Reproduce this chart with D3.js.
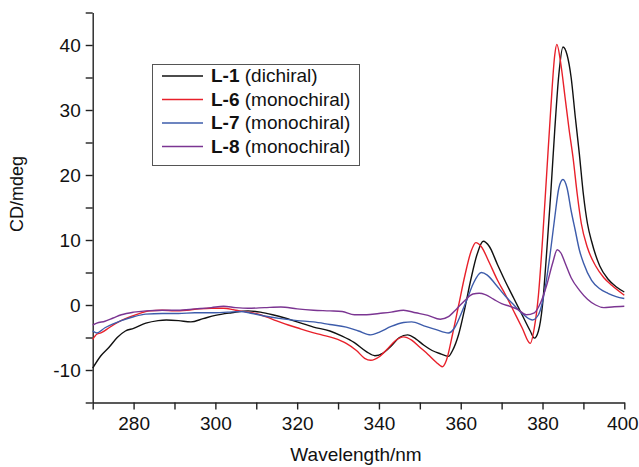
<!DOCTYPE html>
<html>
<head>
<meta charset="utf-8">
<script src="https://cdnjs.cloudflare.com/ajax/libs/d3/7.8.5/d3.min.js"></script>
<style>
body { margin: 0; background: #fff; }
svg text { font-family: "Liberation Sans", Arial, sans-serif; fill: #111; }
.axis path, .axis line { stroke: #222; stroke-width: 1.4px; }
</style>
</head>
<body>
<div id="chart"></div>
<script>
/*global d3 */

// [wavelength nm, CD mdeg]
var seriesL1 = [[270,-9.7],[272,-7.8],[274,-6.5],[276,-5.0],[278,-4.0],[280,-3.6],[283,-2.8],[286,-2.4],[288,-2.3],[291,-2.4],[294,-2.6],[297,-2.1],[300,-1.6],[304,-1.2],[308,-0.9],[311,-1.1],[314,-1.5],[317,-2.0],[320,-2.6],[324,-3.4],[328,-4.0],[331,-4.8],[334,-5.8],[337,-7.2],[339,-7.8],[341,-7.4],[343,-6.3],[345,-5.0],[347,-4.6],[349,-5.2],[351,-6.2],[353,-7.0],[355,-7.5],[357,-7.9],[358,-7.0],[359.5,-4.5],[361,-0.5],[362.5,4.0],[364,7.8],[365.5,9.8],[367,9.0],[369,6.2],[371,3.5],[373,1.0],[375,-1.5],[377,-4.0],[378,-5.1],[379,-4.0],[380,0],[381,8],[382,17],[383,27],[384,35.5],[385,39.7],[386,38.5],[387,35],[388,29],[389,23.3],[390,17],[391,12.5],[392,9.8],[394,6],[396,4],[398,2.8],[400,2.0]];

var seriesL6 = [[270,-5.3],[271,-4.5],[272,-4.3],[274,-3.5],[276,-2.7],[278,-2.1],[281,-1.4],[284,-0.9],[287,-0.8],[290,-0.9],[293,-0.8],[296,-0.6],[299,-0.5],[302,-0.5],[305,-0.8],[308,-1.1],[311,-1.5],[314,-2.2],[317,-2.9],[320,-3.5],[323,-4.1],[326,-4.6],[329,-5.1],[332,-5.9],[334.5,-7.0],[336.5,-8.2],[338,-8.5],[340,-8.0],[342,-6.8],[344,-5.5],[346,-4.9],[348,-5.4],[350,-6.5],[352,-7.6],[354,-8.8],[355.5,-9.5],[356.5,-8.5],[358,-4.5],[359.5,0],[361,4.5],[362.5,8.2],[363.7,9.6],[365,9.0],[367,6.5],[369,3.8],[371,1.5],[373,-1.0],[375,-3.5],[377,-5.9],[378,-3.5],[379,1.5],[380,10],[381,20],[382,30],[383,38.5],[383.5,40.1],[384.5,37],[385.5,32],[386.5,27],[387.5,22.5],[388.5,17],[389.5,12.5],[391,8.8],[393,6],[395,4.2],[397,3],[400,1.5]];

var seriesL7 = [[270,-4.0],[271,-4.3],[273,-3.5],[275,-2.9],[277,-2.4],[280,-1.8],[283,-1.4],[287,-1.3],[291,-1.3],[295,-1.2],[299,-1.2],[303,-1.1],[306,-1.0],[309,-1.3],[312,-1.7],[316,-2.1],[320,-2.4],[324,-2.6],[328,-3.0],[332,-3.4],[335,-4.0],[338,-4.6],[340,-4.2],[343,-3.3],[346,-2.7],[348,-2.6],[351,-3.2],[354,-3.8],[357,-4.3],[358.5,-3.5],[360,-1.5],[361.5,0.8],[363,3.2],[365,5.0],[366.5,4.6],[368.5,3.2],[371,1.3],[373,0],[375,-1.3],[377.5,-2.3],[379,-1.5],[380,0.5],[381,4],[382,8.5],[383,13.5],[384,18],[385,19.3],[386,18],[387,14.5],[388,11.5],[389,8.5],[390,6.5],[392,3.8],[394,2.5],[396,1.8],[398,1.3],[400,1.0]];

var seriesL8 = [[270,-3.1],[271,-2.8],[273,-2.5],[275,-2.0],[277,-1.5],[280,-1.1],[283,-0.9],[287,-0.8],[291,-0.8],[295,-0.6],[299,-0.4],[302,-0.2],[305,-0.4],[308,-0.5],[312,-0.4],[316,-0.3],[320,-0.6],[324,-0.8],[328,-0.9],[331,-1.0],[334,-1.5],[337,-1.5],[340,-1.3],[343,-1.1],[346,-0.8],[349,-1.2],[352,-1.6],[355,-2.2],[357,-1.8],[359,-0.6],[361,0.7],[363,1.7],[364.5,1.8],[366,1.6],[368,0.9],[370,0.2],[372,-0.2],[374,-0.7],[376,-1.5],[378,-1.2],[379.5,0.3],[381,3],[382.5,6.5],[383.6,8.5],[384.5,8],[385.5,6.5],[387,4.2],[389,2.3],[391,0.9],[393,0.0],[395,-0.4],[397,-0.3],[400,-0.2]];

var seriesNames = ["L-1", "L-6", "L-7", "L-8"];
var seriesNotes = ["(dichiral)", "(monochiral)", "(monochiral)", "(monochiral)"];
var seriesColors = ["#111111", "#e8202a", "#3d5cab", "#7b3592"];
var seriesData = [seriesL1, seriesL6, seriesL7, seriesL8];

var xTicks = [270, 280, 290, 300, 310, 320, 330, 340, 350, 360, 370, 380, 390, 400];
var yTicks = [-15, -10, -5, 0, 5, 10, 15, 20, 25, 30, 35, 40, 45];

var margin = {top: 12.5, right: 14.7, bottom: 64.5, left: 92.7};
var width = 639 - margin.left - margin.right;
var height = 467 - margin.top - margin.bottom;

var svg = d3.select("#chart").append("svg")
    .attr("width", 639)
    .attr("height", 467);

var g = svg.append("g")
    .attr("transform", "translate(" + margin.left + "," + margin.top + ")");

var x = d3.scaleLinear().domain([270, 400]).range([0, width]);
var y = d3.scaleLinear().domain([-15, 45]).range([height, 0]);

g.append("g")
    .attr("class", "axis axis--x")
    .attr("transform", "translate(0," + height + ")")
    .call(d3.axisBottom(x)
        .tickValues(xTicks)
        .tickSize(7)
        .tickPadding(7)
        .tickSizeOuter(0)
        .tickFormat(function(d){ return d % 20 === 0 ? d : ""; }))
  .selectAll("text")
    .style("font-size", "19px")
    .attr("dx", function(d){ return d === 400 ? -2 : 0; }); // keep last label inside the frame

g.append("g")
    .attr("class", "axis axis--y")
    .call(d3.axisLeft(y)
        .tickValues(yTicks)
        .tickSize(7)
        .tickPadding(5)
        .tickSizeOuter(0)
        .tickFormat(function(d){ return d % 10 === 0 && d > -15 && d < 45 ? d : ""; }))
  .selectAll("text")
    .style("font-size", "19px");

var line = d3.line()
    .x(function(d){ return x(d[0]); })
    .y(function(d){ return y(d[1]); })
    .curve(d3.curveMonotoneX);

g.selectAll(".series")
    .data(seriesData)
  .enter().append("path")
    .attr("class", "series")
    .attr("fill", "none")
    .attr("stroke", function(d, i){ return seriesColors[i]; })
    .attr("stroke-width", 1.4)
    .attr("d", line);

// axis titles
svg.append("text")
    .attr("x", 356)
    .attr("y", 461)
    .attr("text-anchor", "middle")
    .style("font-size", "19px")
    .text("Wavelength/nm");

svg.append("text")
    .attr("transform", "translate(23,194) rotate(-90)")
    .attr("text-anchor", "middle")
    .style("font-size", "18px")
    .text("CD/mdeg");

// legend
var legend = svg.append("g").attr("class", "legend");

legend.append("rect")
    .attr("x", 152.5)
    .attr("y", 64.5)
    .attr("width", 207)
    .attr("height", 101)
    .attr("fill", "#fff")
    .attr("stroke", "#555")
    .attr("stroke-width", 1);

var rows = legend.selectAll(".row")
    .data(seriesNames)
  .enter().append("g")
    .attr("class", "row")
    .attr("transform", function(d, i){ return "translate(0," + (82 + i * 23.5) + ")"; });

rows.append("line")
    .attr("x1", 162).attr("x2", 203)
    .attr("y1", -6).attr("y2", -6)
    .attr("stroke", function(d, i){ return seriesColors[i]; })
    .attr("stroke-width", 1.4);

var label = rows.append("text")
    .attr("x", 211)
    .style("font-size", "19px");
label.append("tspan")
    .style("font-weight", "bold")
    .text(function(d){ return d; });
label.append("tspan")
    .text(function(d, i){ return " " + seriesNotes[i]; });
</script>
</body>
</html>
